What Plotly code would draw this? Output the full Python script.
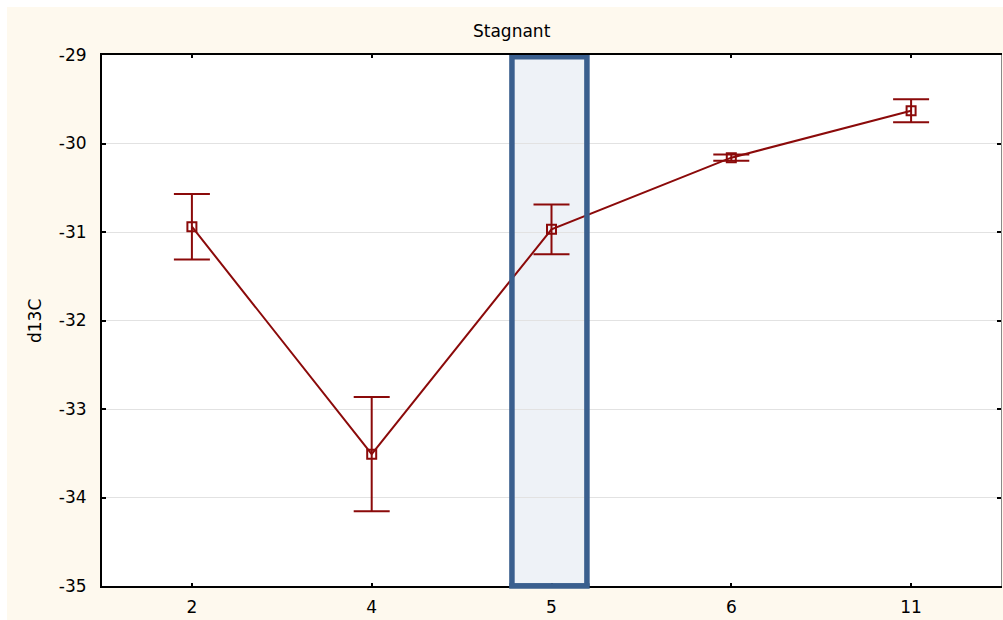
import plotly.graph_objects as go

# Sample groups (x axis) and the measured d13C means with their error half-widths
groups = ["2", "4", "5", "6", "11"]
d13c_mean = [-30.94, -33.51, -30.97, -30.16, -29.63]
d13c_err = [0.37, 0.645, 0.28, 0.035, 0.13]

y_ticks = [-35, -34, -33, -32, -31, -30, -29]
highlight_group = 2  # index of group "5"

W, H = 1003, 620
ML, MR, MT, MB = 102, 2, 55, 34
PW, PH = W - ML - MR, H - MT - MB

def px_x(p):
    return (p - ML) / PW

def px_y(p):
    return (H - MB - p) / PH

line_red = "#8B0A0A"
cream = "#FEF9EE"
font_family = "DejaVu Sans, Liberation Sans, Arial, sans-serif"
fs = 17

fig = go.Figure()

fig.add_trace(go.Scatter(
    x=groups, y=d13c_mean,
    mode="lines+markers",
    line=dict(color=line_red, width=2),
    marker=dict(symbol="square-open", size=9, color=line_red, line=dict(width=2, color=line_red)),
    error_y=dict(type="data", array=d13c_err, visible=True, color=line_red, thickness=2, width=18),
    showlegend=False, hoverinfo="x+y",
))

# companion trace so the right-hand axis frame is drawn
fig.add_trace(go.Scatter(
    x=groups, y=d13c_mean, yaxis="y2", mode="lines",
    line=dict(width=0, color="rgba(0,0,0,0)"), showlegend=False, hoverinfo="skip",
))

shapes = [
    # white strips around the cream page
    dict(type="rect", xref="paper", yref="paper", layer="below",
         x0=px_x(0), x1=px_x(W), y0=px_y(7), y1=px_y(0),
         fillcolor="white", line=dict(width=0)),
    dict(type="rect", xref="paper", yref="paper", layer="below",
         x0=px_x(0), x1=px_x(7), y0=px_y(H), y1=px_y(0),
         fillcolor="white", line=dict(width=0)),
    # highlighted group: tinted fill under the grid, outline above the data
    dict(type="rect", xref="x", yref="y", layer="below",
         x0=highlight_group - 0.22, x1=highlight_group + 0.197, y0=-35.0, y1=-29.02,
         fillcolor="#EEF2F7", line=dict(width=0)),
    dict(type="rect", xref="x", yref="y", layer="above",
         x0=highlight_group - 0.22, x1=highlight_group + 0.197, y0=-35.0, y1=-29.02,
         fillcolor="rgba(0,0,0,0)", line=dict(width=5.5, color="#3A5F8E")),
    # lower edge of the outline, reaching just past the axis line
    dict(type="line", xref="x", yref="paper", layer="above",
         x0=highlight_group - 0.22 - 0.0153, x1=highlight_group + 0.197 + 0.0153,
         y0=px_y(586), y1=px_y(586),
         line=dict(width=5.5, color="#3A5F8E")),
]

fig.update_layout(
    width=W, height=H,
    margin=dict(l=ML, r=MR, t=MT, b=MB, pad=0),
    paper_bgcolor=cream,
    plot_bgcolor="white",
    font=dict(family=font_family, size=fs, color="black"),
    shapes=shapes,
    annotations=[
        dict(text="Stagnant", xref="paper", yref="paper", x=px_x(512), y=px_y(31),
             xanchor="center", yanchor="middle", showarrow=False,
             font=dict(family=font_family, size=fs, color="black")),
        dict(text="d13C", xref="paper", yref="paper", x=px_x(35), y=px_y(321),
             xanchor="center", yanchor="middle", textangle=-90, showarrow=False,
             font=dict(family=font_family, size=fs, color="black")),
    ],
    xaxis=dict(
        type="category", range=[-0.5, 4.5],
        showline=True, linecolor="black", linewidth=2, mirror="ticks",
        ticks="inside", ticklen=3, tickcolor="black", tickwidth=1.5,
        showgrid=False, zeroline=False,
        tickfont=dict(size=fs), ticklabelstandoff=5,
    ),
    yaxis=dict(
        range=[-35, -29], tickvals=y_ticks, ticktext=[str(v) for v in y_ticks],
        showline=True, linecolor="black", linewidth=2,
        ticks="inside", ticklen=4, tickcolor="black", tickwidth=1.5,
        showgrid=True, gridcolor="#E2E2E2", gridwidth=1, zeroline=False,
        tickfont=dict(size=fs), ticklabelstandoff=10,
    ),
    yaxis2=dict(
        range=[-35, -29], tickvals=y_ticks, overlaying="y", side="right",
        showline=True, linecolor="#8A8A8A", linewidth=1,
        ticks="inside", ticklen=4, tickcolor="black", tickwidth=1.5,
        showticklabels=False, showgrid=False, zeroline=False,
    ),
)

fig.write_html("out.html")
